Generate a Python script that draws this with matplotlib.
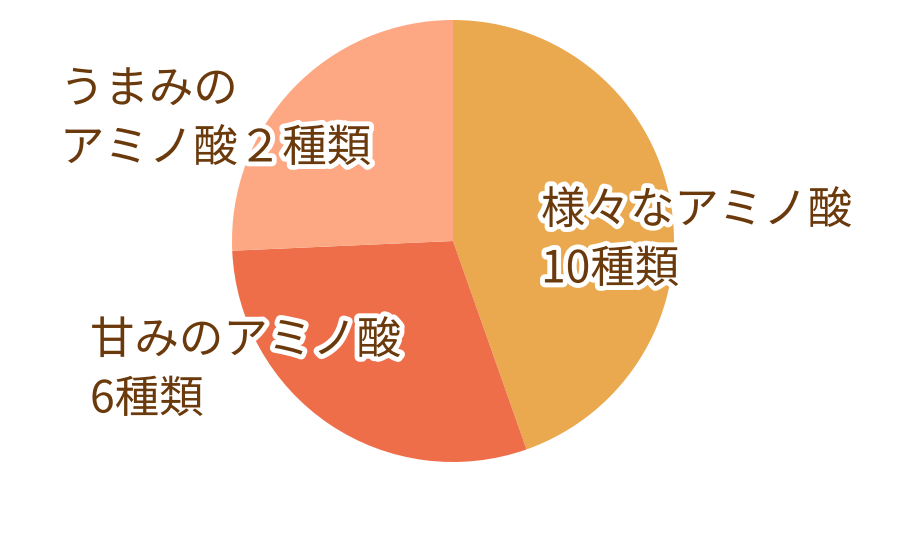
import matplotlib
matplotlib.use("Agg")
import matplotlib.pyplot as plt
import matplotlib.patheffects as pe

plt.rcParams['font.family'] = ['Noto Sans CJK JP', 'DejaVu Sans']

# shares (percent of the circle)
labels = ["様々なアミノ酸\n10種類", "甘みのアミノ酸\n6種類", "うまみの\nアミノ酸２種類"]
shares = [44.6, 29.7, 25.7]
colors = ["#EAA94F", "#EE6E4A", "#FDA883"]

W, H = 917, 553
fig = plt.figure(figsize=(W / 100, H / 100), dpi=100)
fig.patch.set_facecolor("white")

cx, cy, r = 453, 553 - 241, 221
ax = fig.add_axes([(cx - r) / W, (cy - r) / H, 2 * r / W, 2 * r / H])
ax.pie(shares, colors=colors, startangle=90, counterclock=False,
       wedgeprops=dict(linewidth=0))
ax.set_xlim(-1, 1); ax.set_ylim(-1, 1)
ax.set_aspect("equal")
ax.axis("off")

# label anchors: left edge / vertical centre of each text block, pixels from top-left
pos = [(541, 240), (90, 370), (60, 119)]
halo = [pe.withStroke(linewidth=7, foreground="white")]
for lab, (px, py) in zip(labels, pos):
    fig.text(px / W, 1 - py / H, lab, ha="left", va="center", fontsize=32,
             color="#6B3A0C", linespacing=1.36, path_effects=halo)

fig.savefig("out.png", dpi=100, facecolor="white")
